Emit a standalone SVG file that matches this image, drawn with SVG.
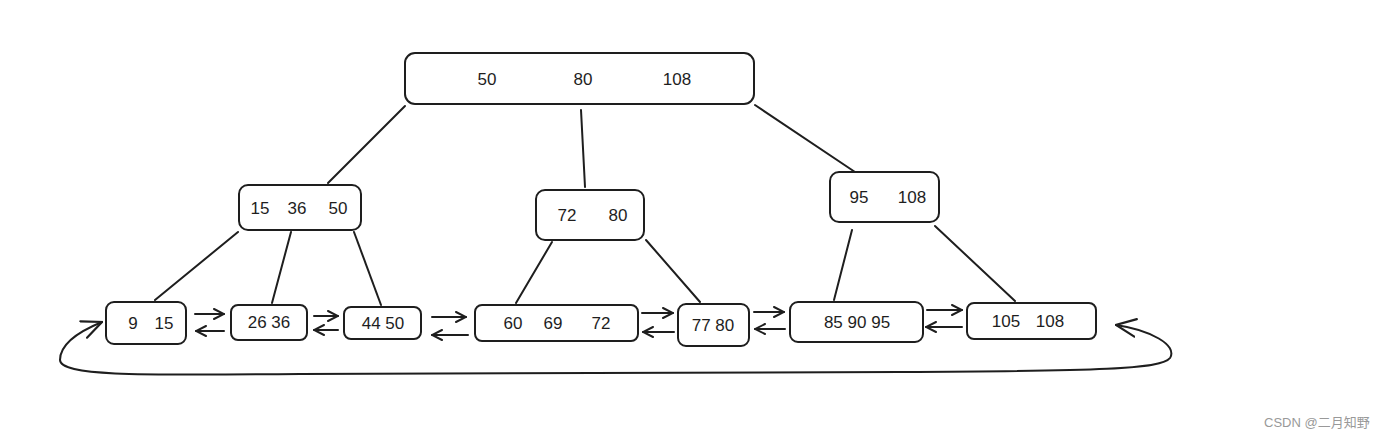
<svg xmlns="http://www.w3.org/2000/svg" width="1400" height="438" viewBox="0 0 1400 438">
<style>
.box{fill:#fff;stroke:#1e1e1e;stroke-width:2}
.t{font-family:"Liberation Sans",Arial,sans-serif;font-size:17px;fill:#1e1e1e;text-anchor:middle;dominant-baseline:central}
.ln{stroke:#1e1e1e;stroke-width:2;fill:none;stroke-linecap:round}
.ar{stroke:#1e1e1e;stroke-width:2;fill:none;stroke-linecap:round;marker-end:url(#ah)}
.wm{font-family:"Liberation Sans","Noto Sans CJK SC",sans-serif;font-size:13px;fill:#999}
</style>
<defs>
<marker id="ah" viewBox="0 0 12 12" refX="11" refY="6" markerWidth="12" markerHeight="12" markerUnits="userSpaceOnUse" orient="auto-start-reverse">
<path d="M1,1 L11,6 L1,11" fill="none" stroke="#1e1e1e" stroke-width="2" stroke-linecap="round"/>
</marker>
<marker id="ahb" viewBox="0 0 20 20" refX="19" refY="10" markerWidth="22" markerHeight="22" markerUnits="userSpaceOnUse" orient="auto-start-reverse">
<path d="M1,2 L19,10 L1,18" fill="none" stroke="#1e1e1e" stroke-width="2" stroke-linecap="round"/>
</marker>
</defs>
<g id="connectors">
<line class="ln" x1="405" y1="106" x2="328" y2="183"/>
<line class="ln" x1="581" y1="110" x2="585" y2="187"/>
<line class="ln" x1="755" y1="105" x2="855" y2="172"/>
<line class="ln" x1="238" y1="232" x2="155" y2="300"/>
<line class="ln" x1="291" y1="232" x2="272" y2="303"/>
<line class="ln" x1="354" y1="232" x2="381" y2="305"/>
<line class="ln" x1="552" y1="242" x2="516" y2="303"/>
<line class="ln" x1="646" y1="240" x2="700" y2="302"/>
<line class="ln" x1="852" y1="230" x2="834" y2="300"/>
<line class="ln" x1="935" y1="226" x2="1015" y2="301"/>
<line class="ar" x1="195" y1="314" x2="224" y2="314"/>
<line class="ar" x1="224" y1="331" x2="196" y2="331"/>
<line class="ar" x1="314" y1="316" x2="338" y2="316"/>
<line class="ar" x1="338" y1="330" x2="314" y2="330"/>
<line class="ar" x1="432" y1="317" x2="466" y2="317"/>
<line class="ar" x1="468" y1="335" x2="432" y2="335"/>
<line class="ar" x1="642" y1="313" x2="673" y2="313"/>
<line class="ar" x1="674" y1="332" x2="643" y2="332"/>
<line class="ar" x1="754" y1="312" x2="784" y2="312"/>
<line class="ar" x1="785" y1="329" x2="755" y2="329"/>
<line class="ar" x1="927" y1="310" x2="962" y2="310"/>
<line class="ar" x1="962" y1="327" x2="926" y2="327"/>
<path class="ln" marker-start="url(#ahb)" marker-end="url(#ahb)" d="M1116,325 C1150,330 1178,345 1170,358 C1162,369 1100,371 900,372 L300,374 C150,375 60,377 60,360 C60,344 80,331 102,322"/>
</g>
<g id="root"><rect class="box" x="405" y="53" width="349" height="51" rx="10"/>
<text class="t" x="487" y="79">50</text><text class="t" x="583" y="79">80</text><text class="t" x="677" y="79">108</text></g>
<g id="n15_36_50"><rect class="box" x="239" y="185" width="122" height="45" rx="9"/>
<text class="t" x="260" y="208">15</text><text class="t" x="297" y="208">36</text><text class="t" x="338" y="208">50</text></g>
<g id="n72_80"><rect class="box" x="536" y="190" width="108" height="50" rx="9"/>
<text class="t" x="567" y="215">72</text><text class="t" x="618" y="215">80</text></g>
<g id="n95_108"><rect class="box" x="830" y="172" width="109" height="50" rx="9"/>
<text class="t" x="859" y="197">95</text><text class="t" x="912" y="197">108</text></g>
<g id="l9_15"><rect class="box" x="106" y="302" width="80" height="42" rx="8"/>
<text class="t" x="133" y="323">9</text><text class="t" x="164" y="323">15</text></g>
<g id="l26_36"><rect class="box" x="231" y="305" width="76" height="35" rx="7"/>
<text class="t" x="269" y="322">26 36</text></g>
<g id="l44_50"><rect class="box" x="344" y="307" width="77" height="32" rx="7"/>
<text class="t" x="383" y="323">44 50</text></g>
<g id="l60_69_72"><rect class="box" x="475" y="305" width="163" height="36" rx="7"/>
<text class="t" x="513" y="323">60</text><text class="t" x="553" y="323">69</text><text class="t" x="601" y="323">72</text></g>
<g id="l77_80"><rect class="box" x="678" y="304" width="71" height="42" rx="8"/>
<text class="t" x="713" y="325">77 80</text></g>
<g id="l85_90_95"><rect class="box" x="790" y="302" width="133" height="40" rx="8"/>
<text class="t" x="857" y="322">85 90 95</text></g>
<g id="l105_108"><rect class="box" x="967" y="303" width="129" height="36" rx="7"/>
<text class="t" x="1006" y="321">105</text><text class="t" x="1050" y="321">108</text></g>
<text class="wm" x="1264" y="427">CSDN @二月知野</text>
</svg>
